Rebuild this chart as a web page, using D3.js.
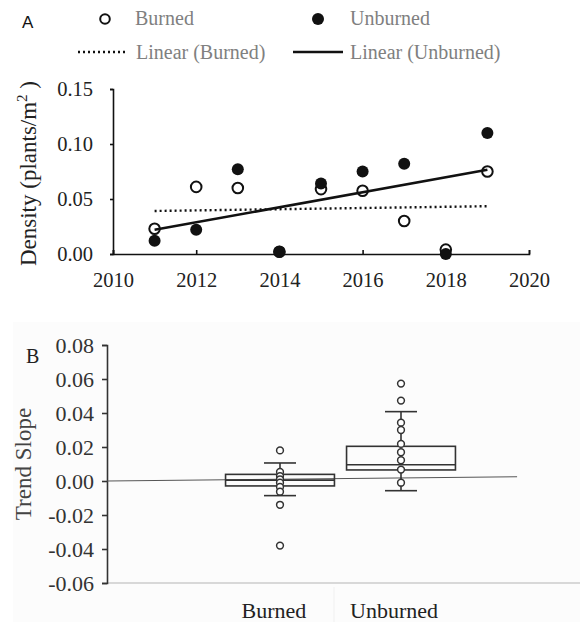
<!DOCTYPE html>
<html>
<head>
<meta charset="utf-8">
<script src="https://cdn.jsdelivr.net/npm/d3@7"></script>
<style>
  body { margin: 0; background: #fff; }
  svg { display: block; }
  text { font-family: "Liberation Serif", "DejaVu Serif", serif; }
  text.sans { font-family: "Liberation Sans", "DejaVu Sans", sans-serif; }
</style>
</head>
<body>
<div class="chart-container"></div>
<script>
// panel A: density by year
const years = [2011, 2012, 2013, 2014, 2015, 2016, 2017, 2018, 2019]
const burnedDensity = [0.023, 0.061, 0.060, 0.002, 0.059, 0.0575, 0.030, 0.004, 0.075]
const unburnedDensity = [0.012, 0.022, 0.077, 0.002, 0.064, 0.075, 0.082, 0.000, 0.110]
const yearTicks = [2010, 2012, 2014, 2016, 2018, 2020]
const densityTicks = [0, 0.05, 0.10, 0.15]

// panel B: trend slopes
const groups = ['Burned', 'Unburned']
const boxLow = [-0.0086, -0.0057]
const boxQ1 = [-0.0029, 0.0065]
const boxMedian = [0.0005, 0.0096]
const boxQ3 = [0.0039, 0.0204]
const boxHigh = [0.0106, 0.0408]
const burnedSlopes = [0.018, 0.0053, 0.0029, 0.001, -0.001, -0.0035, -0.0063, -0.014, -0.038]
const unburnedSlopes = [0.0573, 0.0473, 0.0343, 0.030, 0.0218, 0.0169, 0.0122, 0.0067, -0.001]
const slopeTicks = [-0.06, -0.04, -0.02, 0, 0.02, 0.04, 0.06, 0.08]
const refLine = [{ t: 0, v: 0 }, { t: 0.867, v: 0.0025 }]

const width = 580, height = 622
const svg = d3.select('.chart-container').append('svg').attr('width', width).attr('height', height)

const fmt = d => d3.format('.2f')(d).replace('−', '-')

// ---------- panel A ----------
const xA = d3.scaleLinear().domain([2010, 2020]).range([113, 529])
const yA = d3.scaleLinear().domain([0, 0.15]).range([254, 89])

function linearFit(xs, ys) {
  const mx = d3.mean(xs), my = d3.mean(ys)
  const slope = d3.sum(xs, (x, i) => (x - mx) * (ys[i] - my)) / d3.sum(xs, x => (x - mx) ** 2)
  return x => my + slope * (x - mx)
}

const gA = svg.append('g')

const yAxisA = gA.append('g')
  .attr('transform', `translate(${xA.range()[0]},0)`)
  .call(d3.axisLeft(yA).tickValues(densityTicks).tickFormat(fmt).tickSize(3).tickPadding(17))
const xAxisA = gA.append('g')
  .attr('transform', `translate(0,${yA(0)})`)
  .call(d3.axisBottom(xA).tickValues(yearTicks).tickFormat(d3.format('d')).tickSize(-4).tickPadding(18))

;[yAxisA, xAxisA].forEach(ax => {
  ax.attr('font-family', null).attr('font-size', null)
  ax.select('.domain').attr('stroke', '#111').attr('stroke-width', 1.6)
  ax.selectAll('.tick line').attr('stroke', '#111').attr('stroke-width', 1.6)
  ax.selectAll('.tick text').style('font-size', '20.5px').attr('fill', '#222')
})

gA.append('text')
  .attr('transform', `translate(36,${(yA(0) + yA(0.15)) / 2 + 2}) rotate(-90)`)
  .attr('text-anchor', 'middle')
  .attr('font-size', 23)
  .attr('fill', '#222')
  .call(t => {
    t.append('tspan').text('Density (plants/m')
    t.append('tspan').attr('font-size', 15).attr('dy', -9).text('2')
    t.append('tspan').attr('dy', 9).text(' )')
  })

const fitB = linearFit(years, burnedDensity)
const fitU = linearFit(years, unburnedDensity)
const ends = d3.extent(years)

// open circles sit under the trend lines and the filled dots
gA.selectAll('.burned')
  .data(years)
  .join('circle')
  .attr('class', 'burned')
  .attr('cx', d => xA(d))
  .attr('cy', (d, i) => yA(burnedDensity[i]))
  .attr('r', 5.3)
  .attr('fill', '#fff')
  .attr('stroke', '#111')
  .attr('stroke-width', 2)

gA.append('line')
  .attr('x1', xA(ends[0])).attr('y1', yA(fitB(ends[0])))
  .attr('x2', xA(ends[1])).attr('y2', yA(fitB(ends[1])))
  .attr('stroke', '#111').attr('stroke-width', 2.4).attr('stroke-dasharray', '2,3')

gA.append('line')
  .attr('x1', xA(ends[0])).attr('y1', yA(fitU(ends[0])))
  .attr('x2', xA(ends[1])).attr('y2', yA(fitU(ends[1])))
  .attr('stroke', '#111').attr('stroke-width', 2.6)

gA.selectAll('.unburned')
  .data(years)
  .join('circle')
  .attr('class', 'unburned')
  .attr('cx', d => xA(d))
  .attr('cy', (d, i) => yA(unburnedDensity[i]))
  .attr('r', 6)
  .attr('fill', '#111')

// legend
gA.append('text').attr('class', 'sans').attr('x', 22).attr('y', 28)
  .attr('font-size', 17).attr('fill', '#111').text('A')

const legend = gA.append('g').attr('font-size', 20).attr('fill', '#808080')
legend.append('circle').attr('cx', 105).attr('cy', 19).attr('r', 4.8)
  .attr('fill', '#fff').attr('stroke', '#111').attr('stroke-width', 2)
legend.append('text').attr('x', 135).attr('y', 25).text('Burned')
legend.append('circle').attr('cx', 318).attr('cy', 19).attr('r', 6).attr('fill', '#111')
legend.append('text').attr('x', 350).attr('y', 25).text('Unburned')
legend.append('line').attr('x1', 78).attr('x2', 128).attr('y1', 52).attr('y2', 52)
  .attr('stroke', '#111').attr('stroke-width', 2.4).attr('stroke-dasharray', '2,3')
legend.append('text').attr('x', 136).attr('y', 59).text('Linear (Burned)')
legend.append('line').attr('x1', 293).attr('x2', 343).attr('y1', 52).attr('y2', 52)
  .attr('stroke', '#111').attr('stroke-width', 2.6)
legend.append('text').attr('x', 350).attr('y', 59).text('Linear (Unburned)')

// ---------- panel B ----------
const gB = svg.append('g')
const yB = d3.scaleLinear().domain([-0.06, 0.08]).range([583, 345])
const axisX = 107
const tB = d3.scaleLinear().domain([0, 1]).range([axisX, width])
const boxX = d3.scaleBand().domain(groups).range([219.5, 461.5]).padding(0)
const labelX = d3.scaleBand().domain(groups).range([214, 454]).padding(0)

gB.append('rect').attr('x', 13).attr('y', 322).attr('width', width - 13).attr('height', height - 322)
  .attr('fill', '#fcfcfc')

gB.append('line')
  .attr('x1', tB(0)).attr('x2', tB(1)).attr('y1', yB(-0.06)).attr('y2', yB(-0.06))
  .attr('stroke', '#d8d8d8').attr('stroke-width', 2)

gB.append('line')
  .attr('x1', labelX('Unburned')).attr('x2', labelX('Unburned'))
  .attr('y1', yB(-0.06) + 4).attr('y2', height)
  .attr('stroke', '#f0f0f0').attr('stroke-width', 1)

const yAxisB = gB.append('g')
  .attr('transform', `translate(${axisX},0)`)
  .call(d3.axisLeft(yB).tickValues(slopeTicks).tickFormat(fmt).tickSize(5).tickPadding(8))
yAxisB.attr('font-family', null).attr('font-size', null)
yAxisB.select('.domain').attr('stroke', '#333').attr('stroke-width', 1.6)
yAxisB.selectAll('.tick line').attr('stroke', '#333').attr('stroke-width', 1.6)
yAxisB.selectAll('.tick text').style('font-size', '22px').attr('fill', '#333')

gB.append('text').attr('x', 26).attr('y', 363).attr('font-size', 20).attr('fill', '#222').text('B')

gB.append('text')
  .attr('transform', `translate(31,${464}) rotate(-90)`)
  .attr('text-anchor', 'middle')
  .attr('font-size', 23)
  .attr('fill', '#444')
  .text('Trend Slope')

gB.append('path')
  .datum(refLine)
  .attr('d', d3.line().x(d => tB(d.t)).y(d => yB(d.v)))
  .attr('stroke', '#555').attr('stroke-width', 1).attr('fill', 'none')

const boxes = groups.map((g, i) => ({
  g, low: boxLow[i], q1: boxQ1[i], med: boxMedian[i], q3: boxQ3[i], high: boxHigh[i],
  pts: i === 0 ? burnedSlopes : unburnedSlopes
}))

const bw = boxX.bandwidth() * 0.9
const capW = 32
const mid = d => boxX(d.g) + boxX.bandwidth() / 2
const boxG = gB.selectAll('.box').data(boxes).join('g').attr('class', 'box')
  .attr('stroke', '#333').attr('stroke-width', 1.6).attr('fill', 'none')

boxG.append('line')
  .attr('x1', mid).attr('x2', mid)
  .attr('y1', d => yB(d.high)).attr('y2', d => yB(d.q3))
boxG.append('line')
  .attr('x1', mid).attr('x2', mid)
  .attr('y1', d => yB(d.q1)).attr('y2', d => yB(d.low))
boxG.append('line')
  .attr('x1', d => mid(d) - capW / 2).attr('x2', d => mid(d) + capW / 2)
  .attr('y1', d => yB(d.high)).attr('y2', d => yB(d.high))
boxG.append('line')
  .attr('x1', d => mid(d) - capW / 2).attr('x2', d => mid(d) + capW / 2)
  .attr('y1', d => yB(d.low)).attr('y2', d => yB(d.low))
boxG.append('rect')
  .attr('x', d => mid(d) - bw / 2).attr('width', bw)
  .attr('y', d => yB(d.q3)).attr('height', d => yB(d.q1) - yB(d.q3))
boxG.append('line')
  .attr('x1', d => mid(d) - bw / 2).attr('x2', d => mid(d) + bw / 2)
  .attr('y1', d => yB(d.med)).attr('y2', d => yB(d.med))

boxG.selectAll('circle')
  .data(d => d.pts.map(v => ({ g: d.g, v })))
  .join('circle')
  .attr('cx', mid)
  .attr('cy', d => yB(d.v))
  .attr('r', 3.4)
  .attr('fill', '#fff')
  .attr('stroke-width', 1.5)

gB.selectAll('.group-label')
  .data(groups)
  .join('text')
  .attr('class', 'group-label')
  .attr('x', d => labelX(d) + labelX.bandwidth() / 2)
  .attr('y', 618)
  .attr('text-anchor', 'middle')
  .style('font-size', '22px')
  .attr('fill', '#222')
  .text(d => d)
</script>
</body>
</html>
